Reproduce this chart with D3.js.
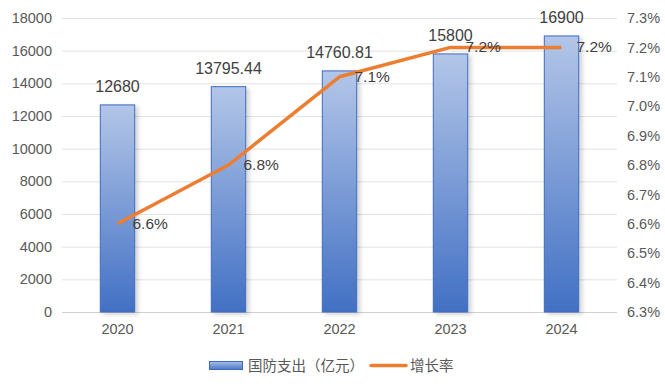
<!DOCTYPE html>
<html>
<head>
<meta charset="utf-8">
<script src="https://cdn.jsdelivr.net/npm/d3@7"></script>
<style>
  body { margin: 0; background: #fff; }
  text { font-family: "Liberation Sans", "Noto Sans CJK SC", sans-serif; }
</style>
</head>
<body>
<div id="chart"></div>
<script>
var years = ["2020", "2021", "2022", "2023", "2024"];
var spending = [12680, 13795.44, 14760.81, 15800, 16900];
var spendingLabels = ["12680", "13795.44", "14760.81", "15800", "16900"];
var growth = [6.6, 6.8, 7.1, 7.2, 7.2];
var leftTicks = [0, 2000, 4000, 6000, 8000, 10000, 12000, 14000, 16000, 18000];
var rightTicks = [6.3, 6.4, 6.5, 6.6, 6.7, 6.8, 6.9, 7.0, 7.1, 7.2, 7.3];
var seriesNames = ["国防支出（亿元）", "增长率"];

var W = 665, H = 390;
var margin = {top: 18, right: 48, bottom: 78, left: 62};
var width = W - margin.left - margin.right,
    height = H - margin.top - margin.bottom;

var svg = d3.select("#chart").append("svg")
    .attr("width", W).attr("height", H);

var defs = svg.append("defs");
var grad = defs.append("linearGradient")
    .attr("id", "barGrad").attr("x1", 0).attr("y1", 0).attr("x2", 0).attr("y2", 1);
grad.append("stop").attr("offset", "0%").attr("stop-color", "#b3c6e8");
grad.append("stop").attr("offset", "100%").attr("stop-color", "#4270c4");
var lgrad = defs.append("linearGradient")
    .attr("id", "legGrad").attr("x1", 0).attr("y1", 0).attr("x2", 0).attr("y2", 1);
lgrad.append("stop").attr("offset", "0%").attr("stop-color", "#a9bfe6");
lgrad.append("stop").attr("offset", "100%").attr("stop-color", "#4a76c6");
var shadow = defs.append("filter").attr("id", "shadow")
    .attr("x", "-20%").attr("y", "-5%").attr("width", "150%").attr("height", "115%");
shadow.append("feDropShadow").attr("dx", 3).attr("dy", 2).attr("stdDeviation", 2)
    .attr("flood-color", "#000").attr("flood-opacity", 0.18);

var g = svg.append("g")
    .attr("transform", "translate(" + margin.left + "," + margin.top + ")");

var x = d3.scaleBand().domain(years).range([0, width]).paddingInner(0.69).paddingOuter(0.345);
var y = d3.scaleLinear().domain([0, 18000]).range([height, 0]);
var y2 = d3.scaleLinear().domain([6.3, 7.3]).range([height, 0]);

// gridlines
g.append("g").selectAll("line").data(leftTicks).enter().append("line")
    .attr("x1", 0).attr("x2", width)
    .attr("y1", function (d) { return y(d) + 0.5; })
    .attr("y2", function (d) { return y(d) + 0.5; })
    .attr("stroke", function (d) { return d === 0 ? "#d0d0d0" : "#e2e2e2"; })
    .attr("stroke-width", 1);

// left axis
var axL = g.append("g").call(d3.axisLeft(y).tickValues(leftTicks).tickSize(0).tickPadding(10)
    .tickFormat(d3.format("d")));
axL.select(".domain").remove();
axL.selectAll("text").attr("fill", "#595959").style("font-size", "14.5px");

// right axis
var axR = g.append("g").attr("transform", "translate(" + width + ",0)")
    .call(d3.axisRight(y2).tickValues(rightTicks).tickSize(0).tickPadding(10)
        .tickFormat(function (d) { return d3.format(".1f")(d) + "%"; }));
axR.select(".domain").remove();
axR.selectAll("text").attr("fill", "#595959").style("font-size", "14.5px");

// bottom axis
var axB = g.append("g").attr("transform", "translate(0," + height + ")")
    .call(d3.axisBottom(x).tickSize(0).tickPadding(12));
axB.select(".domain").remove();
axB.selectAll("text").attr("fill", "#595959").style("font-size", "14.5px");

// bars
g.selectAll(".bar").data(spending).enter().append("rect")
    .attr("class", "bar")
    .attr("x", function (d, i) { return x(years[i]); })
    .attr("y", function (d) { return y(d); })
    .attr("width", x.bandwidth())
    .attr("height", function (d) { return height - y(d); })
    .attr("fill", "url(#barGrad)")
    .attr("stroke", "#3e6bc0")
    .attr("stroke-width", 1)
    .attr("filter", "url(#shadow)");

// bar labels
g.selectAll(".barlab").data(spending).enter().append("text")
    .attr("x", function (d, i) { return x(years[i]) + x.bandwidth() / 2; })
    .attr("y", function (d) { return y(d) - 13; })
    .attr("text-anchor", "middle")
    .attr("fill", "#404040")
    .style("font-size", "16px")
    .text(function (d, i) { return spendingLabels[i]; });

// growth line
var line = d3.line()
    .x(function (d, i) { return x(years[i]) + x.bandwidth() / 2; })
    .y(function (d) { return y2(d); });
g.append("path").datum(growth)
    .attr("d", line)
    .attr("fill", "none")
    .attr("stroke", "#ed7d31")
    .attr("stroke-width", 3.5)
    .attr("stroke-linejoin", "round");

// line labels
g.selectAll(".linelab").data(growth).enter().append("text")
    .attr("x", function (d, i) { return x(years[i]) + x.bandwidth() / 2 + 15; })
    .attr("y", function (d) { return y2(d) + 5; })
    .attr("fill", "#404040")
    .style("font-size", "15.5px")
    .text(function (d) { return d3.format(".1f")(d) + "%"; });

// legend
var leg = svg.append("g").attr("transform", "translate(0,365)");
leg.append("rect").attr("x", 209.5).attr("y", -3.5).attr("width", 33).attr("height", 8)
    .attr("fill", "url(#legGrad)").attr("stroke", "#3e6bc0").attr("stroke-width", 1);
leg.append("text").attr("x", 248).attr("y", 5.5)
    .attr("fill", "#595959").style("font-size", "14.5px").text(seriesNames[0]);
leg.append("line").attr("x1", 371).attr("x2", 406).attr("y1", 0.5).attr("y2", 0.5)
    .attr("stroke", "#ed7d31").attr("stroke-width", 3.5).attr("stroke-linecap", "round");
leg.append("text").attr("x", 410).attr("y", 5.5)
    .attr("fill", "#595959").style("font-size", "14.5px").text(seriesNames[1]);
</script>
</body>
</html>
